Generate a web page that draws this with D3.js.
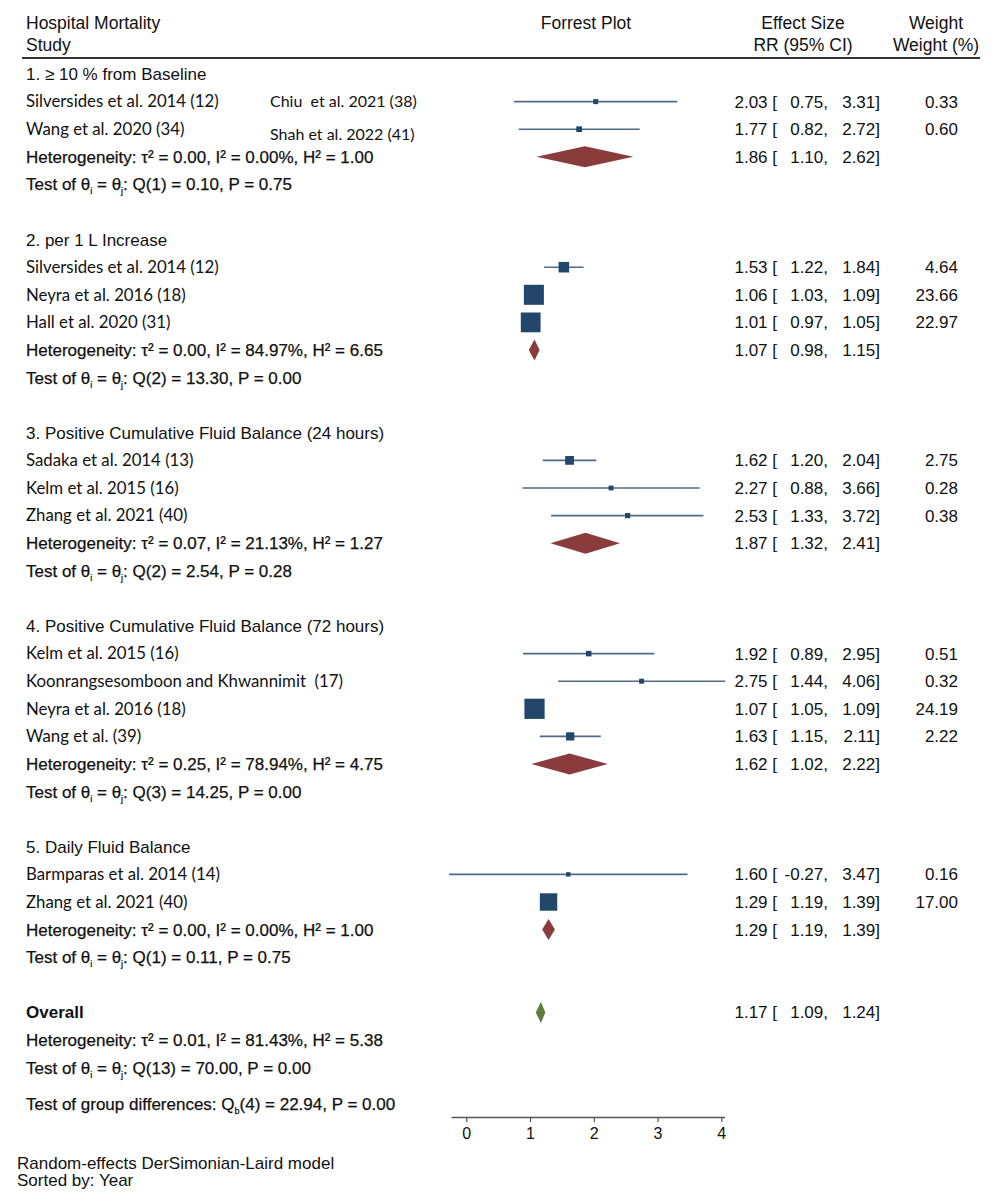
<!DOCTYPE html>
<html>
<head>
<meta charset="utf-8">
<script src="https://cdn.jsdelivr.net/npm/d3@7"></script>
<style>
  body { margin: 0; background: #fff; }
  svg { display: block; }
  text { white-space: pre; }
</style>
</head>
<body>
<svg id="chart" width="1000" height="1204"></svg>
<script>
// ---------------- DATA ----------------
const groups = [
  "1. \u2265 10 % from Baseline",
  "2. per 1 L Increase",
  "3. Positive Cumulative Fluid Balance (24 hours)",
  "4. Positive Cumulative Fluid Balance (72 hours)",
  "5. Daily Fluid Balance"
];
const studyGroup = [0, 0, 1, 1, 1, 2, 2, 2, 3, 3, 3, 3, 4, 4];
const studyNames = [
  "Silversides et al. 2014 (12)", "Wang et al. 2020 (34)",
  "Silversides et al. 2014 (12)", "Neyra et al. 2016 (18)", "Hall et al. 2020 (31)",
  "Sadaka et al. 2014 (13)", "Kelm et al. 2015 (16)", "Zhang et al. 2021 (40)",
  "Kelm et al. 2015 (16)", "Koonrangsesomboon and Khwannimit  (17)", "Neyra et al. 2016 (18)", "Wang et al. (39)",
  "Barmparas et al. 2014 (14)", "Zhang et al. 2021 (40)"
];
const studyES = [2.03, 1.77, 1.53, 1.06, 1.01, 1.62, 2.27, 2.53, 1.92, 2.75, 1.07, 1.63, 1.60, 1.29];
const studyLo = [0.75, 0.82, 1.22, 1.03, 0.97, 1.20, 0.88, 1.33, 0.89, 1.44, 1.05, 1.15, -0.27, 1.19];
const studyHi = [3.31, 2.72, 1.84, 1.09, 1.05, 2.04, 3.66, 3.72, 2.95, 4.06, 1.09, 2.11, 3.47, 1.39];
const studyWeight = [0.33, 0.60, 4.64, 23.66, 22.97, 2.75, 0.28, 0.38, 0.51, 0.32, 24.19, 2.22, 0.16, 17.00];
// extra labels shown beside the first group's rows
const extraLabels = ["Chiu  et al. 2021 (38)", "Shah et al. 2022 (41)"];

const subES = [1.86, 1.07, 1.87, 1.62, 1.29];
const subLo = [1.10, 0.98, 1.32, 1.02, 1.19];
const subHi = [2.62, 1.15, 2.41, 2.22, 1.39];
const subTau2 = ["0.00", "0.00", "0.07", "0.25", "0.00"];
const subI2 = ["0.00", "84.97", "21.13", "78.94", "0.00"];
const subH2 = ["1.00", "6.65", "1.27", "4.75", "1.00"];
const subQdf = [1, 2, 2, 3, 1];
const subQ = ["0.10", "13.30", "2.54", "14.25", "0.11"];
const subP = ["0.75", "0.00", "0.28", "0.00", "0.75"];

const overall = { es: 1.17, lo: 1.09, hi: 1.24, tau2: "0.01", i2: "81.43", h2: "5.38", qdf: 13, q: "70.00", p: "0.00" };
const groupDiff = { df: 4, q: "22.94", p: "0.00" };

const axisTicks = [0, 1, 2, 3, 4];
const footer = ["Random-effects DerSimonian-Laird model", "Sorted by: Year"];

// ---------------- LAYOUT ----------------
const svg = d3.select("#chart");
const C = {
  text: "#111",
  square: "#23466b",
  ci: "#4f6b88",
  diamond: "#8a3b3b",
  overall: "#5e7c3a",
  axis: "#555"
};
const FONT_ARIAL = "'Liberation Sans', Arial, Helvetica, sans-serif";
const FONT_NARROW = "'Liberation Sans Narrow', 'Arial Narrow', 'Liberation Sans', sans-serif";
const FONT_STUDY = "Lato, 'Open Sans', sans-serif";
const FS = 17;

const x = d3.scaleLinear().domain([-0.24, 4.05]).range([451, 724.5]);
const rowY = d3.scaleLinear().domain([0, 1]).range([74, 101.6]);
const sizeScale = d3.scaleSqrt().domain([0, 25]).range([3, 20.5]);

// build rows
const rows = [];
let r = 0;
groups.forEach((g, gi) => {
  rows.push({ type: "group", label: g, row: r++ });
  studyGroup.forEach((sg, si) => {
    if (sg === gi) rows.push({ type: "study", idx: si, row: r++ });
  });
  rows.push({ type: "het", gi, row: r++ });
  rows.push({ type: "test", gi, row: r++ });
  r++; // blank
});
rows.push({ type: "overall", row: r++ });
rows.push({ type: "ohet", row: r++ });
rows.push({ type: "otest", row: r++ });
rows.push({ type: "gdiff", row: r++ });

// ---------------- HEADER ----------------
const hdr = svg.append("g").attr("font-family", FONT_NARROW).attr("font-size", 17.5)
  .attr("fill", C.text).style("font-stretch", "condensed");
hdr.append("text").attr("x", 26).attr("y", 29).text("Hospital Mortality");
hdr.append("text").attr("x", 26).attr("y", 51).text("Study");
hdr.append("text").attr("x", 586).attr("y", 29).attr("text-anchor", "middle").text("Forrest Plot");
hdr.append("text").attr("x", 803).attr("y", 29).attr("text-anchor", "middle").text("Effect Size");
hdr.append("text").attr("x", 803).attr("y", 51).attr("text-anchor", "middle").text("RR (95% CI)");
hdr.append("text").attr("x", 936).attr("y", 29).attr("text-anchor", "middle").text("Weight");
hdr.append("text").attr("x", 936).attr("y", 51).attr("text-anchor", "middle").text("Weight (%)");

svg.append("line").attr("x1", 22).attr("x2", 980).attr("y1", 58).attr("y2", 58)
  .attr("stroke", "#333").attr("stroke-width", 2);

// ---------------- HELPERS ----------------
function esText(g, y, es, lo, hi) {
  const t = g.append("g").attr("font-family", FONT_ARIAL).attr("font-size", FS).attr("fill", C.text);
  t.append("text").attr("x", 777).attr("y", y).attr("dy", "0.35em").attr("text-anchor", "end")
    .text(es.toFixed(2) + " [");
  t.append("text").attr("x", 828).attr("y", y).attr("dy", "0.35em").attr("text-anchor", "end")
    .text(lo.toFixed(2) + ",");
  t.append("text").attr("x", 880).attr("y", y).attr("dy", "0.35em").attr("text-anchor", "end")
    .text(hi.toFixed(2) + "]");
}
function diamond(g, y, es, lo, hi, fill) {
  const h = 10.5;
  const pts = [[x(lo), y], [x(es), y - h], [x(hi), y], [x(es), y + h]];
  g.append("path").attr("d", d3.line()(pts) + "Z").attr("fill", fill);
}
function statText(y) {
  return svg.append("text").attr("x", 26).attr("y", y).attr("dy", "0.35em")
    .attr("font-family", FONT_ARIAL).attr("font-size", FS).attr("fill", C.text)
    .attr("stroke", C.text).attr("stroke-width", 0.25);
}
function hetText(y, tau2, i2, h2) {
  statText(y).append("tspan")
    .text("Heterogeneity: \u03C4\u00B2 = " + tau2 + ", I\u00B2 = " + i2 + "%, H\u00B2 = " + h2);
}
function testText(y, df, q, p) {
  const t = statText(y);
  t.append("tspan").text("Test of \u03B8");
  t.append("tspan").attr("font-size", 9).attr("dy", 4).text("i");
  t.append("tspan").attr("dy", -4).text(" = \u03B8");
  t.append("tspan").attr("font-size", 9).attr("dy", 4).text("j");
  t.append("tspan").attr("dy", -4).text(": Q(" + df + ") = " + q + ", P = " + p);
}

// ---------------- ROWS ----------------
const marks = svg.append("g");
rows.forEach(d => {
  const y = rowY(d.row);
  if (d.type === "group") {
    svg.append("text").attr("x", 26).attr("y", y).attr("dy", "0.35em")
      .attr("font-family", FONT_ARIAL).attr("font-size", FS).attr("fill", C.text).text(d.label);
  } else if (d.type === "study") {
    const i = d.idx;
    svg.append("text").attr("x", 26).attr("y", y).attr("dy", "0.35em")
      .attr("font-family", FONT_STUDY).attr("font-size", 16.8).attr("fill", C.text).text(studyNames[i]);
    if (i < extraLabels.length) {
      svg.append("text").attr("x", 270).attr("y", y + (i === 1 ? 5 : 0)).attr("dy", "0.35em")
        .attr("font-family", FONT_STUDY).attr("font-size", 16).attr("fill", C.text).text(extraLabels[i]);
    }
    marks.append("line").attr("x1", x(studyLo[i])).attr("x2", x(studyHi[i]))
      .attr("y1", y).attr("y2", y).attr("stroke", C.ci).attr("stroke-width", 1.6);
    const s = sizeScale(studyWeight[i]);
    marks.append("rect").attr("x", x(studyES[i]) - s / 2).attr("y", y - s / 2)
      .attr("width", s).attr("height", s).attr("fill", C.square);
    esText(svg, y, studyES[i], studyLo[i], studyHi[i]);
    svg.append("text").attr("x", 958).attr("y", y).attr("dy", "0.35em").attr("text-anchor", "end")
      .attr("font-family", FONT_ARIAL).attr("font-size", FS).attr("fill", C.text)
      .text(studyWeight[i].toFixed(2));
  } else if (d.type === "het") {
    const gi = d.gi;
    hetText(y, subTau2[gi], subI2[gi], subH2[gi]);
    diamond(marks, y, subES[gi], subLo[gi], subHi[gi], C.diamond);
    esText(svg, y, subES[gi], subLo[gi], subHi[gi]);
  } else if (d.type === "test") {
    testText(y, subQdf[d.gi], subQ[d.gi], subP[d.gi]);
  } else if (d.type === "overall") {
    svg.append("text").attr("x", 26).attr("y", y).attr("dy", "0.35em")
      .attr("font-family", FONT_ARIAL).attr("font-size", FS).attr("font-weight", "bold")
      .attr("fill", C.text).text("Overall");
    diamond(marks, y, overall.es, overall.lo, overall.hi, C.overall);
    esText(svg, y, overall.es, overall.lo, overall.hi);
  } else if (d.type === "ohet") {
    hetText(y, overall.tau2, overall.i2, overall.h2);
  } else if (d.type === "otest") {
    testText(y, overall.qdf, overall.q, overall.p);
  } else if (d.type === "gdiff") {
    const t = statText(y + 9);
    t.append("tspan").text("Test of group differences: Q");
    t.append("tspan").attr("font-size", 9).attr("dy", 4).text("b");
    t.append("tspan").attr("dy", -4).text("(" + groupDiff.df + ") = " + groupDiff.q + ", P = " + groupDiff.p);
  }
});

// ---------------- AXIS ----------------
const axisG = svg.append("g").attr("transform", "translate(0,1117)")
  .call(d3.axisBottom(x).tickValues(axisTicks).tickFormat(d3.format("d")).tickSize(5).tickSizeOuter(0));
axisG.select(".domain").attr("stroke", C.axis).attr("stroke-width", 1.5);
axisG.selectAll(".tick line").attr("stroke", C.axis).attr("stroke-width", 1.2);
axisG.selectAll(".tick text").attr("font-family", FONT_ARIAL).attr("font-size", 16)
  .attr("fill", C.text).attr("dy", "0.9em");

// ---------------- FOOTER ----------------
footer.forEach((f, i) => {
  svg.append("text").attr("x", 17).attr("y", 1169 + i * 17)
    .attr("font-family", FONT_ARIAL).attr("font-size", 17).attr("fill", C.text).text(f);
});
</script>
</body>
</html>
